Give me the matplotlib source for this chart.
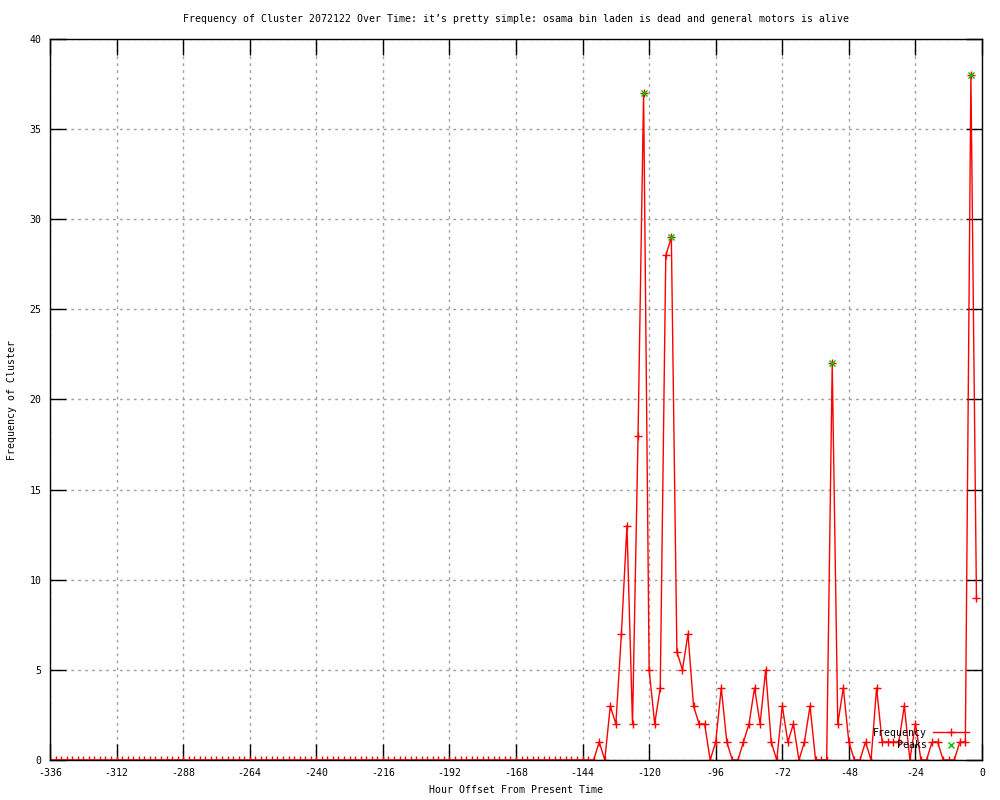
import matplotlib
matplotlib.use('Agg')
import matplotlib.pyplot as plt

plt.rcParams['font.family'] = ['DejaVu Sans Mono']
plt.rcParams['axes.unicode_minus'] = False

# hours before present, one sample every 2 hours
hours = list(range(-336, 0, 2))
# -336 .. -140 : no activity
freq = [0] * 99 + [
    1, 0, 3, 2, 7, 13, 2, 18, 37, 5,
    2, 4, 28, 29, 6, 5, 7, 3, 2, 2,
    0, 1, 4, 1, 0, 0, 1, 2, 4, 2,
    5, 1, 0, 3, 1, 2, 0, 1, 3, 0,
    0, 0, 22, 2, 4, 1, 0, 0, 1, 0,
    4, 1, 1, 1, 1, 3, 0, 2, 0, 0,
    1, 1, 0, 0, 0, 1, 1, 38, 9,
]
peak_hours = [-122, -112, -54, -4]
peak_vals = [37, 29, 22, 38]

xticks = list(range(-336, 1, 24))
yticks = list(range(0, 41, 5))

fs = 7.1

fig = plt.figure(figsize=(10, 8), dpi=100)
ax = fig.add_axes([0.05, 0.05, 0.932, 0.90125])

ax.plot(hours, freq, color='red', lw=1, marker='+', ms=6, mew=1, label='Frequency')
ax.plot(peak_hours, peak_vals, ls='none', color='#00c000', marker='x', ms=5, mew=1,
        label='Peaks')

ax.set_xlim(-336, 0)
ax.set_ylim(0, 40)
ax.set_xticks(xticks)
ax.set_yticks(yticks)
ax.tick_params(direction='in', length=11.5, width=1, top=True, right=True,
               labelsize=fs, pad=6)
ax.grid(True, color='#a0a0a0', ls=(0, (2, 3)), lw=1)
for s in ax.spines.values():
    s.set_linewidth(1)

ax.set_title("Frequency of Cluster 2072122 Over Time: it\u2019s pretty simple: osama bin laden is dead and general motors is alive",
             fontsize=fs, pad=12)
ax.set_xlabel('Hour Offset From Present Time', fontsize=fs, labelpad=5)
ax.set_ylabel('Frequency of Cluster', fontsize=fs, labelpad=9)

ax.legend(loc='lower right', bbox_to_anchor=(0.99, 0.008), frameon=False,
          markerfirst=False, fontsize=fs, handlelength=3.6, labelspacing=0.25,
          borderaxespad=0, handletextpad=0.6)

fig.savefig('out.png', dpi=100)
